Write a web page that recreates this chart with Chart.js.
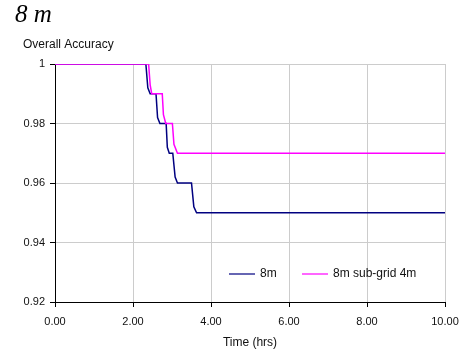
<!DOCTYPE html>
<html>
<head>
<meta charset="utf-8">
<script src="https://cdn.jsdelivr.net/npm/chart.js@4"></script>
<style>
  body { margin: 0; background: #fff; }
  canvas { display: block; }
</style>
</head>
<body>
<canvas id="myChart" width="473" height="354"></canvas>
<script>
  // time (hrs) and overall accuracy for each run
  const times8m = [0, 2.33, 2.38, 2.44, 2.59, 2.63, 2.69, 2.85, 2.88, 2.93, 3.02, 3.08, 3.14, 3.50, 3.56, 3.63, 10];
  const acc8m = [1, 1, 0.992, 0.99, 0.99, 0.982, 0.98, 0.98, 0.972, 0.97, 0.97, 0.962, 0.96, 0.96, 0.952, 0.95, 0.95];

  const timesSub = [0, 2.40, 2.44, 2.48, 2.75, 2.78, 2.84, 3.01, 3.05, 3.14, 10];
  const accSub = [1, 1, 0.993, 0.99, 0.99, 0.983, 0.98, 0.98, 0.973, 0.97, 0.97];

  const xTicks = [0, 2, 4, 6, 8, 10];
  const yTicks = [0.92, 0.94, 0.96, 0.98, 1];

  const toPoints = (xs, ys) => xs.map((x, i) => ({ x: x, y: ys[i] }));

  const data = {
    datasets: [{
      label: '8m',
      data: toPoints(times8m, acc8m),
      borderColor: '#000080',
      borderWidth: 1.5,
      pointRadius: 0,
      tension: 0,
      order: 1
    }, {
      label: '8m sub-grid 4m',
      data: toPoints(timesSub, accSub),
      borderColor: '#ff00ff',
      borderWidth: 1.5,
      pointRadius: 0,
      tension: 0,
      order: 0
    }]
  };

  const sans = '"Liberation Sans", Arial, sans-serif';

  // headings and the legend inside the plot
  const extras = {
    id: 'extras',
    beforeDraw(chart) {
      const ctx = chart.ctx;
      ctx.save();
      ctx.fillStyle = '#fff';
      ctx.fillRect(0, 0, chart.width, chart.height);
      ctx.restore();
    },
    afterDraw(chart) {
      const ctx = chart.ctx;
      const a = chart.chartArea;
      ctx.save();
      ctx.fillStyle = '#000';
      ctx.textBaseline = 'alphabetic';
      ctx.font = 'italic 25px "Liberation Serif", "DejaVu Serif", serif';
      ctx.fillText('8 m', 15, 22);
      ctx.font = '12px ' + sans;
      ctx.fillStyle = '#111';
      ctx.fillText('Overall Accuracy', 23, 48);

      const ly = a.bottom - 28;
      let lx = a.left + 174;
      ctx.textBaseline = 'middle';
      ctx.lineWidth = 2;
      chart.data.datasets.forEach(ds => {
        ctx.globalAlpha = 0.6;
        ctx.strokeStyle = ds.borderColor;
        ctx.beginPath();
        ctx.moveTo(lx, ly);
        ctx.lineTo(lx + 26, ly);
        ctx.stroke();
        ctx.globalAlpha = 1;
        ctx.fillStyle = '#111';
        ctx.fillText(ds.label, lx + 31, ly);
        lx += 73;
      });
      ctx.restore();
    }
  };

  const tickFont = { family: sans, size: 11 };

  const options = {
    responsive: false,
    animation: false,
    layout: { padding: { top: 64, right: 28, left: 0, bottom: 0 } },
    plugins: {
      legend: { display: false },
      tooltip: { enabled: false }
    },
    scales: {
      x: {
        type: 'linear',
        min: 0,
        max: 10,
        afterBuildTicks: s => { s.ticks = xTicks.map(v => ({ value: v })); },
        afterFit: s => { s.height = 52; },
        ticks: {
          font: tickFont,
          color: '#111',
          padding: 8,
          maxRotation: 0,
          callback: v => v.toFixed(2)
        },
        grid: { color: '#cccccc', lineWidth: 1, tickColor: '#000', tickLength: 5 },
        border: { color: '#000', width: 1 },
        title: {
          display: true,
          text: 'Time (hrs)',
          font: { family: sans, size: 12 },
          color: '#111',
          padding: { top: 4, bottom: 4 }
        }
      },
      y: {
        min: 0.92,
        max: 1,
        afterBuildTicks: s => { s.ticks = yTicks.map(v => ({ value: v })); },
        afterFit: s => { s.width = 55; },
        ticks: {
          font: tickFont,
          color: '#111',
          padding: 5,
          callback: v => (Math.abs(v - 1) < 1e-9 ? '1' : v.toFixed(2))
        },
        grid: { color: '#cccccc', lineWidth: 1, tickColor: '#000', tickLength: 5 },
        border: { color: '#000', width: 1 }
      }
    }
  };

  const config = {
    type: 'line',
    data: data,
    options: options,
    plugins: [extras]
  };

  const myChart = new Chart(
    document.getElementById('myChart'),
    config
  );
</script>
</body>
</html>
